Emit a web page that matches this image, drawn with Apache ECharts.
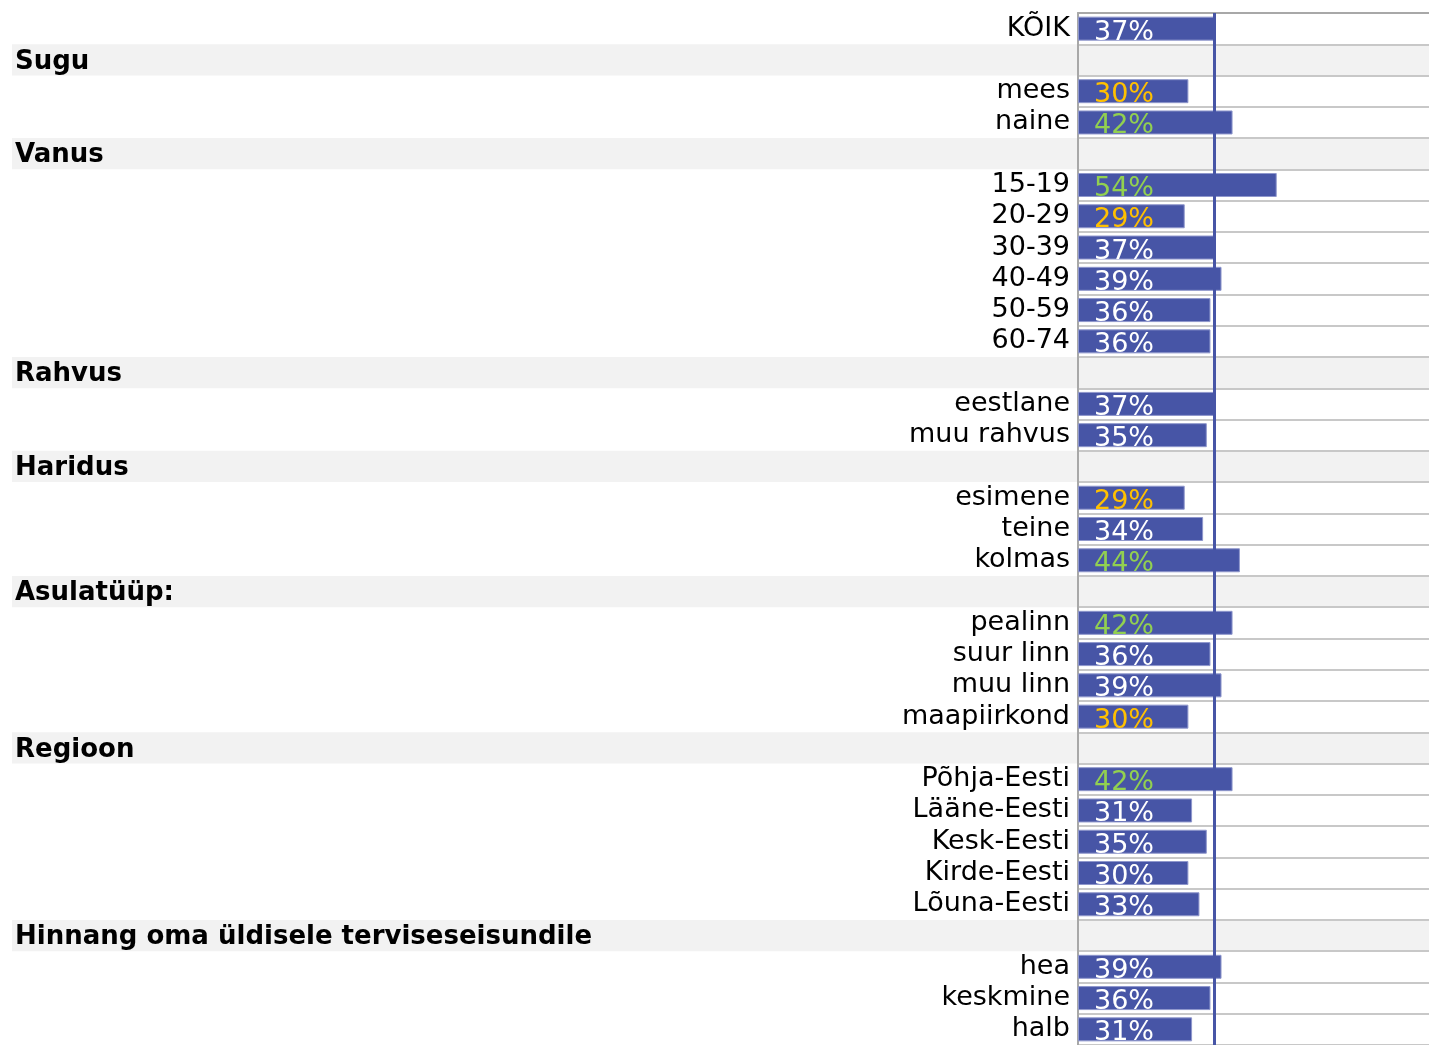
<!DOCTYPE html>
<html>
<head>
<meta charset="utf-8">
<script src="https://cdn.jsdelivr.net/npm/echarts@6/dist/echarts.min.js"></script>
<style>
  html, body { margin: 0; padding: 0; background: #fff; }
  #chart { width: 1429px; height: 1045px; }
</style>
</head>
<body>
<div id="chart"></div>
<script>
// Row labels, top to bottom; group headings have no value
const rowLabels = [
  'KÕIK', 'Sugu', 'mees', 'naine',
  'Vanus', '15-19', '20-29', '30-39', '40-49', '50-59', '60-74',
  'Rahvus', 'eestlane', 'muu rahvus',
  'Haridus', 'esimene', 'teine', 'kolmas',
  'Asulatüüp:', 'pealinn', 'suur linn', 'muu linn', 'maapiirkond',
  'Regioon', 'Põhja-Eesti', 'Lääne-Eesti', 'Kesk-Eesti', 'Kirde-Eesti', 'Lõuna-Eesti',
  'Hinnang oma üldisele terviseseisundile', 'hea', 'keskmine', 'halb'
];

// Share (%) per row; null marks a group heading
const shares = [
  37, null, 30, 42,
  null, 54, 29, 37, 39, 36, 36,
  null, 37, 35,
  null, 29, 34, 44,
  null, 42, 36, 39, 30,
  null, 42, 31, 35, 30, 33,
  null, 39, 36, 31
];

// Difference from the overall figure: 'hi' notably above, 'lo' notably below
const deviation = [
  '', '', 'lo', 'hi',
  '', 'hi', 'lo', '', '', '', '',
  '', '', '',
  '', 'lo', '', 'hi',
  '', 'hi', '', '', 'lo',
  '', 'hi', '', '', '', '',
  '', '', '', ''
];

// Overall reference level (KÕIK)
const overall = 37;

const FONT = 'DejaVu Sans, Verdana, sans-serif';
const BAR = '#4755a6';
const labelColor = { hi: '#92d050', lo: '#ffc000', '': '#ffffff' };

const isHeader = shares.map(v => v === null);

const barData = shares.map((v, i) => v === null ? '-' : {
  value: v,
  label: { color: labelColor[deviation[i]] }
});

const headerData = [];
rowLabels.forEach((name, i) => { if (isHeader[i]) headerData.push({ value: [0, i], name: name }); });

const chart = echarts.init(document.getElementById('chart'), null, { renderer: 'canvas' });

chart.setOption({
  animation: false,
  backgroundColor: '#ffffff',
  grid: {
    left: 1078, top: 13, width: 368, height: 1032,
    containLabel: false, outerBoundsMode: 'none'
  },
  xAxis: {
    type: 'value', min: 0, max: 100, position: 'top',
    axisLine: { show: true, lineStyle: { color: '#a8a8a8', width: 2 } },
    axisTick: { show: false }, axisLabel: { show: false }, splitLine: { show: false }
  },
  yAxis: {
    type: 'category', inverse: true, data: rowLabels,
    axisLine: { show: true, lineStyle: { color: '#a8a8a8', width: 2 } },
    axisTick: { show: false },
    splitLine: { show: true, interval: 0, lineStyle: { color: '#c8c8c8', width: 2 } },
    axisLabel: {
      interval: 0, margin: 8, fontSize: 27, fontFamily: FONT, color: '#000',
      padding: [4, 0, 0, 0],
      formatter: (val, idx) => isHeader[idx] ? '' : val
    }
  },
  series: [
    {
      // shaded band and bold title of each group heading
      type: 'custom',
      z: -1,
      clip: false,
      silent: true,
      data: headerData,
      renderItem: function (params, api) {
        const c = api.coord([0, api.value(1)]);
        const h = api.size([0, 1])[1];
        return {
          type: 'group',
          children: [
            { type: 'rect', shape: { x: 12, y: c[1] - h / 2, width: 1429 - 12, height: h },
              style: { fill: '#f2f2f2' } },
            { type: 'text', style: {
                x: 15, y: c[1] + 2, text: headerData[params.dataIndex].name,
                font: 'bold 26px ' + FONT, fill: '#000', verticalAlign: 'middle', align: 'left' } }
          ]
        };
      }
    },
    {
      type: 'bar',
      data: barData,
      barWidth: 24,
      itemStyle: { color: BAR, borderColor: '#8f97cc', borderWidth: 1 },
      label: {
        show: true, position: 'insideLeft', distance: 16, offset: [0, 4],
        fontSize: 27, fontFamily: FONT, formatter: '{c}%'
      },
      markLine: {
        silent: true,
        symbol: 'none',
        label: { show: false },
        lineStyle: { color: BAR, width: 3, type: 'solid' },
        data: [{ xAxis: overall }]
      }
    }
  ]
});
</script>
</body>
</html>
